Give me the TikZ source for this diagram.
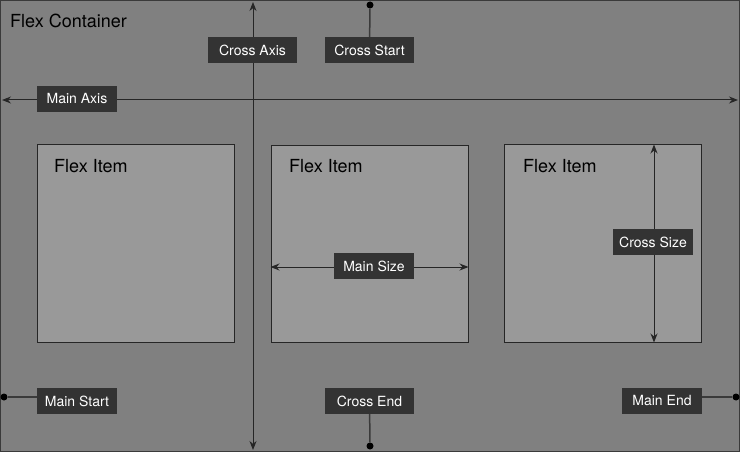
\documentclass[tikz,border=0pt]{standalone}
\usepackage{fontspec}
\setmainfont{TeX Gyre Heros}
\usetikzlibrary{arrows.meta}
\definecolor{bggray}{HTML}{808080}
\definecolor{itemgray}{HTML}{999999}
\definecolor{lblgray}{HTML}{333333}
\definecolor{edge}{HTML}{3A3A3A}
\tikzset{
  container/.style={draw=edge, line width=1pt, fill=bggray},
  item/.style={draw=black!85, line width=1pt, fill=itemgray, minimum width=197pt, minimum height=197pt, inner sep=0pt},
  lbl/.style={fill=lblgray, text=white, font=\fontsize{14}{14}\selectfont, minimum height=26pt, inner sep=0pt},
  wlbl/.style={lbl, minimum width=89pt},
  nlbl/.style={lbl, minimum width=80pt},
  title/.style={font=\fontsize{18}{18}\selectfont, text=black, anchor=base west, inner sep=0pt},
  axis/.style={draw=black!85, line width=1pt, {Stealth[length=9pt,width=7pt]}-{Stealth[length=9pt,width=7pt]}},
  dot/.style={circle, fill=black, inner sep=0pt, minimum size=7pt},
  stem/.style={draw=edge, line width=1.5pt},
}
\begin{document}
\begin{tikzpicture}[x=1pt,y=-1pt]
\useasboundingbox (0,0) rectangle (740,452);
\draw[container] (0.5,0.5) rectangle (739.5,451.5);
\node[title] (ct) at (10,28) {Flex Container};
% items
\node[item] (i1) at (135.5,243.5) {};
\node[item] (i2) at (369.5,244) {};
\node[item] (i3) at (603,243.5) {};
\node[title] (t1) at (54,172) {Flex Item};
\node[title] (t2) at (289,172) {Flex Item};
\node[title] (t3) at (523,172) {Flex Item};
% axes
\coordinate (mL) at (2,100);
\coordinate (mR) at (738,100);
\coordinate (cT) at (253,2);
\coordinate (cB) at (253,450);
\draw[axis] (mL) -- (mR);
\draw[axis] (cT) -- (cB);
% sizes
\draw[axis] (i2.west |- 0,267) -- (i2.east |- 0,267);
\draw[axis] (654,0 |- i3.north) -- (654,0 |- i3.south);
% labels
\node[wlbl] (lca) at (252.5,50) {Cross Axis};
\node[wlbl] (lcs) at (369.5,50) {Cross Start};
\node[nlbl] (lma) at (77,99) {Main Axis};
\node[nlbl] (lms) at (374,266) {Main Size};
\node[nlbl] (lcz) at (653,242) {Cross Size};
\node[nlbl] (lst) at (77,401) {Main Start};
\node[wlbl] (lce) at (369.5,401) {Cross End};
\node[nlbl] (len) at (662,401) {Main End};
% dots
\node[dot] (dcs) at (370,5) {};
\node[dot] (dce) at (370,446) {};
\node[dot] (dst) at (4,397) {};
\node[dot] (den) at (736,397) {};
\draw[stem] (dcs) -- (lcs);
\draw[stem] (dce) -- (lce);
\draw[stem] (dst) -- (lst.west |- dst);
\draw[stem] (den) -- (len.east |- den);
\end{tikzpicture}
\end{document}
